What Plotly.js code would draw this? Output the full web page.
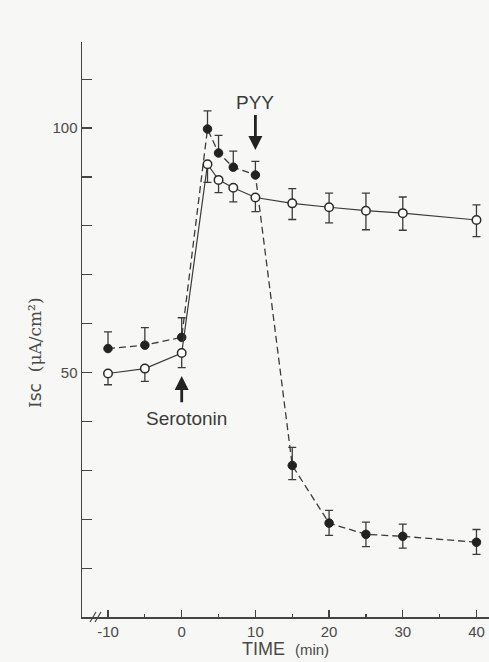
<!DOCTYPE html>
<html>
<head>
<meta charset="utf-8">
<script src="https://cdn.plot.ly/plotly-3.0.1.min.js"></script>
<style>html,body{margin:0;padding:0;background:#f7f7f5;}</style>
</head>
<body>
<div id="chart" style="width:489px;height:662px;"></div>
<script>
// Time points (min)
var time = [-10, -5, 0, 3.5, 5, 7, 10, 15, 20, 25, 30, 40];
// PYY-treated tissue (filled circles, dashed line)
var pyyMean = [54.9, 55.6, 57.2, 99.8, 94.9, 92.0, 90.4, 31.0, 19.2, 16.9, 16.5, 15.3];
var pyyErrUp = [3.4, 3.6, 4.0, 3.7, 3.6, 3.3, 2.8, 3.7, 2.6, 2.5, 2.5, 2.6];
var pyyErrDown = [0, 0, 0, 0, 0, 0, 0, 2.9, 2.5, 2.5, 2.4, 2.5];
// Control tissue (open circles, solid line)
var ctrlMean = [49.8, 50.8, 54.0, 92.6, 89.4, 87.8, 85.8, 84.6, 83.8, 83.1, 82.6, 81.2];
var ctrlErrUp = [0, 0, 0, 0, 0, 0, 0, 3.0, 2.9, 3.6, 3.3, 3.1];
var ctrlErrDown = [2.3, 2.6, 3.0, 3.7, 2.6, 2.9, 2.9, 3.3, 3.2, 3.9, 3.5, 3.4];
// Axis ticks
var xTickVals = [-10, 0, 10, 20, 30, 40];
var xTickText = ['-10', '0', '10', '20', '30', '40'];
var yTickVals = [10, 20, 30, 40, 50, 60, 70, 80, 90, 100, 110];
var yTickText = ['', '', '', '', '50', '', '', '', '', '100', ''];

var ink = '#3b3b3b';
var font = 'Liberation Sans, Arial, sans-serif';

var traces = [
  {
    x: time, y: pyyMean, mode: 'lines+markers', name: 'PYY',
    line: {color: ink, width: 1.3, dash: '7px,4px'},
    marker: {symbol: 'circle', size: 8.5, color: '#222', line: {color: '#222', width: 1}},
    error_y: {type: 'data', symmetric: false, array: pyyErrUp, arrayminus: pyyErrDown,
              color: ink, thickness: 1.3, width: 4}
  },
  {
    x: time, y: ctrlMean, mode: 'lines+markers', name: 'Control',
    line: {color: ink, width: 1.2},
    marker: {symbol: 'circle', size: 8.5, color: '#ffffff', line: {color: '#2a2a2a', width: 1.5}},
    error_y: {type: 'data', symmetric: false, array: ctrlErrUp, arrayminus: ctrlErrDown,
              color: ink, thickness: 1.3, width: 4}
  }
];

var layout = {
  width: 489, height: 662,
  margin: {l: 82, r: 0, t: 42, b: 45},
  paper_bgcolor: '#f7f7f5', plot_bgcolor: '#f7f7f5',
  showlegend: false,
  font: {family: font, color: '#4a4a4a', size: 15},
  xaxis: {
    range: [-13.53, 41.7], showgrid: false, zeroline: false,
    showline: true, linecolor: '#444', linewidth: 1.5,
    tickmode: 'array', tickvals: xTickVals, ticktext: xTickText,
    ticks: 'inside', ticklen: 7, tickwidth: 1.2, tickcolor: '#444',
    minor: {dtick: 5, tick0: 0, ticks: 'inside', ticklen: 3, tickwidth: 1.2, tickcolor: '#444'},
    tickfont: {family: font, size: 15, color: '#4a4a4a'},
    title: {text: 'TIME  <span style="font-size:15px">(min)</span>', standoff: 2,
            font: {family: font, size: 18, color: '#4a4a4a'}}
  },
  yaxis: {
    range: [0, 117.6], showgrid: false, zeroline: false,
    showline: true, linecolor: '#444', linewidth: 1.5,
    tickmode: 'array', tickvals: yTickVals, ticktext: yTickText,
    ticks: 'inside', ticklen: 10, tickwidth: 1.2, tickcolor: '#444',
    tickfont: {family: font, size: 15, color: '#4a4a4a'}
  },
  annotations: [
    {xref: 'paper', yref: 'paper', x: (35 - 82) / 407, y: (617 - 353) / 575,
     xanchor: 'center', yanchor: 'middle', textangle: -90,
     text: 'I<span style="font-family:DejaVu Sans">sc</span>  (μA/cm²)', showarrow: false,
     font: {family: 'DejaVu Serif, serif', size: 17, color: '#4a4a4a'}},
    {x: 0, y: 49.3, xref: 'x', yref: 'y', ax: 0, ay: 43.6, axref: 'x', ayref: 'y',
     showarrow: true, arrowhead: 2, arrowsize: 1, arrowwidth: 2.8, arrowcolor: '#222', text: ''},
    {x: 0.7, y: 40.6, xref: 'x', yref: 'y', text: 'Serotonin', showarrow: false,
     font: {family: font, size: 19, color: '#3a3a3a'}},
    {x: 10, y: 95.5, xref: 'x', yref: 'y', ax: 10, ay: 103, axref: 'x', ayref: 'y',
     showarrow: true, arrowhead: 2, arrowsize: 1, arrowwidth: 2.8, arrowcolor: '#222', text: ''},
    {x: 10, y: 105.2, xref: 'x', yref: 'y', text: 'PYY', showarrow: false,
     font: {family: font, size: 19, color: '#3a3a3a'}}
  ],
  shapes: [
    {type: 'line', xref: 'paper', yref: 'paper', x0: 0.0197, y0: -0.0087, x1: 0.0344, y1: 0.0087,
     line: {color: '#444', width: 1.2}},
    {type: 'line', xref: 'paper', yref: 'paper', x0: 0.0319, y0: -0.0087, x1: 0.0467, y1: 0.0087,
     line: {color: '#444', width: 1.2}}
  ]
};

Plotly.newPlot('chart', traces, layout, {displayModeBar: false, staticPlot: true});
</script>
</body>
</html>
